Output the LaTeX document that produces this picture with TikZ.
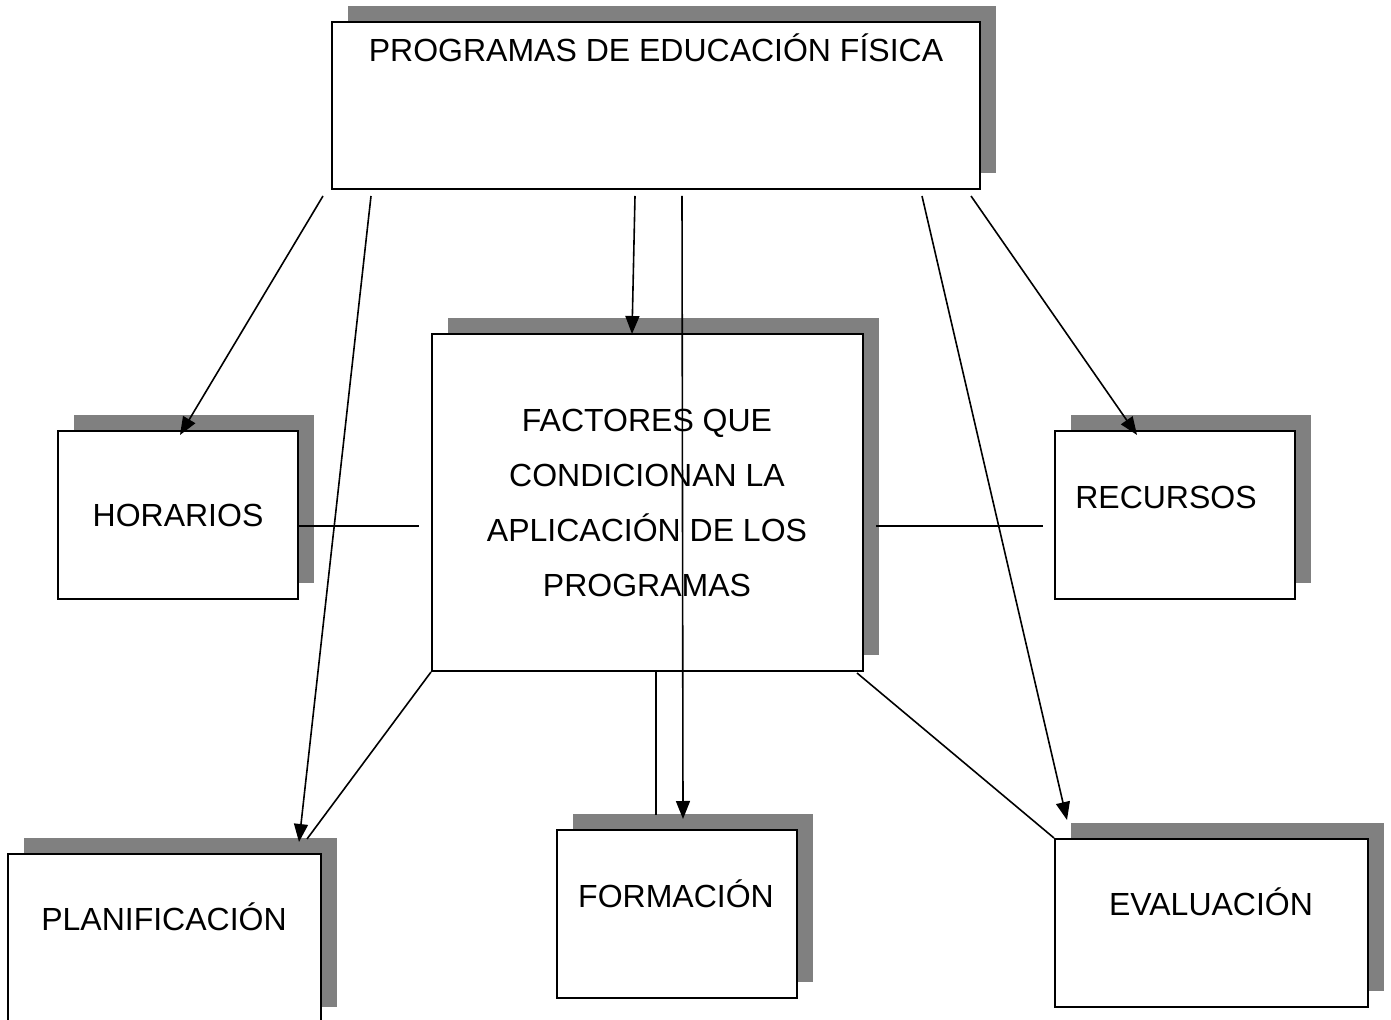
\documentclass[tikz,border=0pt]{standalone}
\usepackage{fontspec}
\setmainfont{Liberation Sans}
\usetikzlibrary{shadows,arrows.meta}
\definecolor{shgray}{HTML}{808080}
\begin{document}
\begin{tikzpicture}[x=0.5pt,y=-0.5pt,
  box/.style={draw=black, line width=1pt, fill=white, inner sep=0pt,
    general shadow={fill=shgray, shadow xshift=8pt, shadow yshift=8pt}},
  lbl/.style={font=\fontsize{16}{27.5}\selectfont, inner sep=0pt, anchor=base},
  conn/.style={line width=0.8pt},
  arr/.style={conn, -{Triangle[length=9pt,width=7pt]}}]
\clip (0,0) rectangle (1391,1020);
\fill[white] (0,0) rectangle (1391,1020);
% boxes
\node[box, minimum width=324pt, minimum height=83.5pt] (top) at (656,105.5) {};
\node[box, minimum width=215.5pt, minimum height=168.5pt] (center) at (647.5,502.5) {};
\node[box, minimum width=120pt, minimum height=84pt] (horarios) at (178,515) {};
\node[box, minimum width=120pt, minimum height=84pt] (recursos) at (1175,515) {};
\node[box, minimum width=156.5pt, minimum height=84.5pt] (planif) at (164.5,938.5) {};
\node[box, minimum width=120pt, minimum height=84pt] (formacion) at (677,914) {};
\node[box, minimum width=156.5pt, minimum height=84pt] (evaluacion) at (1211.5,923) {};
% labels
\node[lbl] (topT) at (656,61.5) {PROGRAMAS DE EDUCACIÓN FÍSICA};
\node[lbl, anchor=center, align=center] (centerT) at (647,502.5) {FACTORES QUE\\CONDICIONAN LA\\APLICACIÓN DE LOS\\PROGRAMAS};
\node[lbl] (horariosT) at (178,526.5) {HORARIOS};
\node[lbl] (recursosT) at (1166,508.5) {RECURSOS};
\node[lbl] (planifT) at (164,930.5) {PLANIFICACIÓN};
\node[lbl] (formacionT) at (676,907.5) {FORMACIÓN};
\node[lbl] (evaluacionT) at (1211,915.5) {EVALUACIÓN};
% connector end points
\coordinate (s1) at (323,196); \coordinate (e1) at (180,435);
\coordinate (s2) at (371,196); \coordinate (e2) at (299,842);
\coordinate (s3) at (635,196); \coordinate (e3) at (632,334);
\coordinate (s4) at (682,196); \coordinate (e4) at (683,819);
\coordinate (s5) at (922,196); \coordinate (e5) at (1067,820);
\coordinate (s6) at (971,196); \coordinate (e6) at (1137,435);
\coordinate (hl1) at (298,526); \coordinate (hl2) at (419,526);
\coordinate (hr1) at (876,526); \coordinate (hr2) at (1043,526);
\coordinate (pl) at (307,839);
\coordinate (v1) at (656,671); \coordinate (v2) at (656,815);
\coordinate (ev) at (857,673);
% arrows
\draw[arr] (s1) -- (e1);
\draw[arr] (s2) -- (e2);
\draw[arr] (s3) -- (e3);
\draw[arr] (s4) -- (e4);
\draw[arr] (s5) -- (e5);
\draw[arr] (s6) -- (e6);
% plain lines
\draw[conn] (hl1) -- (hl2);
\draw[conn] (hr1) -- (hr2);
\draw[conn] (center.south west) -- (pl);
\draw[conn] (v1) -- (v2);
\draw[conn] (ev) -- (evaluacion.north west);
\end{tikzpicture}
\end{document}
